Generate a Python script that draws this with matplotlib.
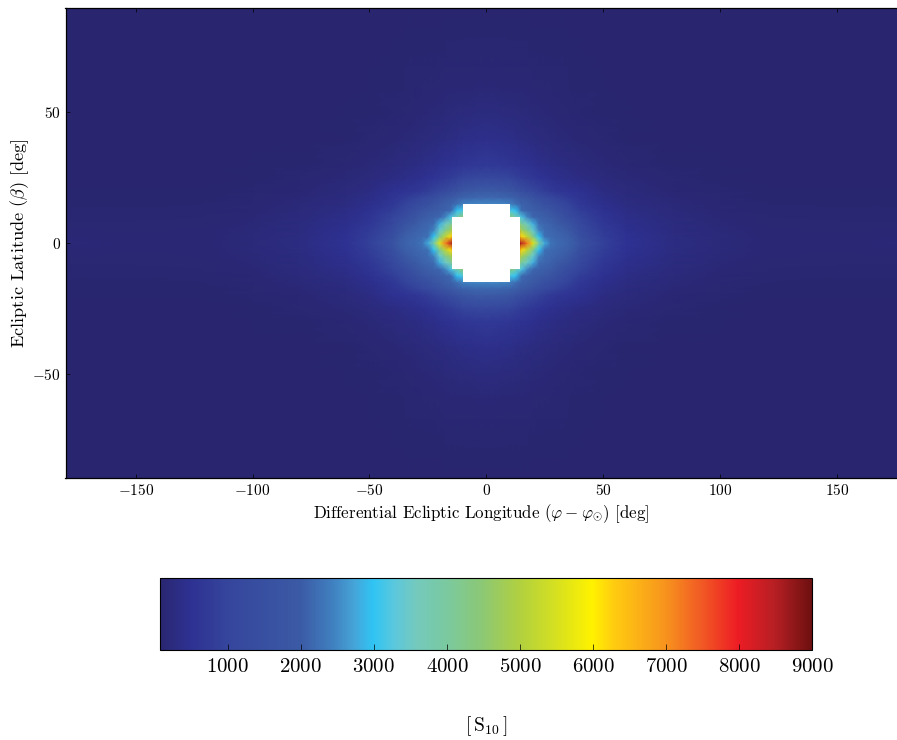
import numpy as np
import matplotlib
matplotlib.use("Agg")
import matplotlib.pyplot as plt
from matplotlib.colors import LinearSegmentedColormap
from matplotlib.patches import Rectangle

plt.rcParams['font.family'] = ['cmr10', 'DejaVu Serif']
plt.rcParams['mathtext.fontset'] = 'cm'
plt.rcParams['axes.formatter.use_mathtext'] = True
plt.rcParams['axes.unicode_minus'] = True

# quadrant nodes (deg); the map is close to symmetric
lon_nodes = [0, 5, 10, 12.5, 15, 17.5, 20, 22.5, 25, 27.5, 30, 35, 40, 50, 60, 80, 100, 120, 150, 180]
lat_nodes = [0, 2.5, 5, 7.5, 10, 12.5, 15, 17.5, 20, 25, 30, 40, 50, 60, 75, 90]

# surface brightness [S10], rows follow lat_nodes, columns follow lon_nodes
brightness = np.array([
 [9000,9000,9000,9000,8500,7200,5600,3900,2800,2300,2200,2100,1650,900,520,320,215,150,140,190],
 [9000,9000,9000,8600,6200,5200,4200,3000,2250,2200,2150,2050,1500,820,500,305,205,148,135,165],
 [9000,9000,8000,6500,4800,4200,3400,2450,2200,2150,2100,1900,1350,750,470,285,195,140,125,145],
 [7500,7000,6000,5000,4000,3500,2800,2200,2150,2100,2000,1650,1150,660,430,265,180,130,115,125],
 [6000,5500,4500,3800,3200,2500,2150,2100,2050,2000,1800,1350,1000,570,385,245,165,120,105,110],
 [4500,4000,3200,3000,2200,2100,2050,2000,1900,1750,1500,1150,820,490,345,220,150,110,98,100],
 [2500,2500,2450,2250,2100,2050,1950,1750,1550,1400,1250,950,680,430,305,195,135,100,92,92],
 [2150,2150,2100,2050,1950,1800,1600,1400,1250,1100,950,750,570,370,270,170,120,92,86,86],
 [2000,1950,1800,1600,1450,1250,1100,950,820,720,640,560,490,320,230,145,105,86,82,82],
 [1150,1100,1000,900,800,720,650,580,520,470,430,370,320,235,175,115,90,78,76,76],
 [700,680,620,570,530,490,450,410,380,350,320,280,245,180,135,95,80,74,72,72],
 [420,400,370,345,320,300,280,260,240,225,205,175,150,115,95,78,73,72,72,72],
 [260,255,240,230,215,205,190,180,170,160,150,130,112,94,83,74,72,72,72,72],
 [160,158,155,150,145,140,135,130,122,117,112,102,92,83,77,72,72,72,72,72],
 [100,100,100,99,98,97,96,94,92,90,88,84,80,76,73,72,72,72,72,72],
 [78,78,78,78,78,78,78,78,78,77,77,76,75,74,73,72,72,72,72,72],
])

# solar exclusion zone: half-widths in lon and half-heights in lat
hole_halfwidth = [14.5, 10]
hole_halfheight = [10, 15]

# colour bar stops [S10] and the colours seen there
cbar_values = [70, 500, 1000, 2000, 2450, 2750, 3000, 3300, 3600, 4000, 4500, 5000, 5500, 6000, 6300, 7000, 7500, 8000, 8500, 9000]
cbar_colors = ['#29266f', '#2e3192', '#35459c', '#3b5aa5', '#4080c0', '#45a5d8', '#2fc4f4', '#5cc8dc',
               '#74c9bc', '#7ac9a0', '#8cc874', '#b0d040', '#d5e020', '#fff200', '#ffcc10', '#f7941d',
               '#f15a24', '#ed1c24', '#b71f24', '#6f1010']
cbar_ticks = [1000, 2000, 3000, 4000, 5000, 6000, 7000, 8000, 9000]

vmin, vmax = cbar_values[0], cbar_values[-1]
cmap = LinearSegmentedColormap.from_list(
    'zodi', [((v - vmin) / (vmax - vmin), c) for v, c in zip(cbar_values, cbar_colors)], N=1024)

lon_q = np.array(lon_nodes)
lat_q = np.array(lat_nodes)
lon = np.concatenate([-lon_q[:0:-1], lon_q])
lat = np.concatenate([-lat_q[:0:-1], lat_q])
field = np.vstack([brightness[:0:-1], brightness])
field = np.hstack([field[:, :0:-1], field])

W, H = 897, 740
fig = plt.figure(figsize=(W / 100, H / 100), dpi=100)
ax = fig.add_axes([65.5 / W, 1 - 478 / H, (W - 65.5) / W, (478 - 8) / H])
ax.set_facecolor('#29266f')
mesh = ax.pcolormesh(lon, lat, field, shading='gouraud', cmap=cmap, vmin=vmin, vmax=vmax, rasterized=True)
for hw, hh in zip(hole_halfwidth, hole_halfheight):
    ax.add_patch(Rectangle((-hw, -hh), 2 * hw, 2 * hh, fc='white', ec='none', zorder=3))
ax.set_xlim(-180, 175.6)
ax.set_ylim(-90, 90)
ax.set_xticks([-150, -100, -50, 0, 50, 100, 150])
ax.set_yticks([-50, 0, 50])
ax.tick_params(direction='in', top=True, right=False, length=3, width=0.5, labelsize=11)
ax.set_xlabel(r'Differential Ecliptic Longitude $(\varphi - \varphi_{\odot})$ [deg]', fontsize=12.2, labelpad=3)
ax.set_ylabel(r'Ecliptic Latitude $(\beta)$ [deg]', fontsize=13.2, labelpad=1)
ax.spines['right'].set_visible(False)
for s in ('left', 'top', 'bottom'):
    ax.spines[s].set_linewidth(0.9)

cax = fig.add_axes([160 / W, 1 - 650 / H, (812 - 160) / W, (650 - 578) / H])
cb = fig.colorbar(mesh, cax=cax, orientation='horizontal', ticks=cbar_ticks)
cb.ax.tick_params(direction='in', length=4, width=0.5, labelsize=15, pad=6)
cb.solids.set_edgecolor('face')
fig.text(486 / W, 1 - 726 / H, r'$[\,\mathrm{S}_{10}\,]$', fontsize=14, ha='center', va='center')

fig.savefig('out.png', dpi=100)
